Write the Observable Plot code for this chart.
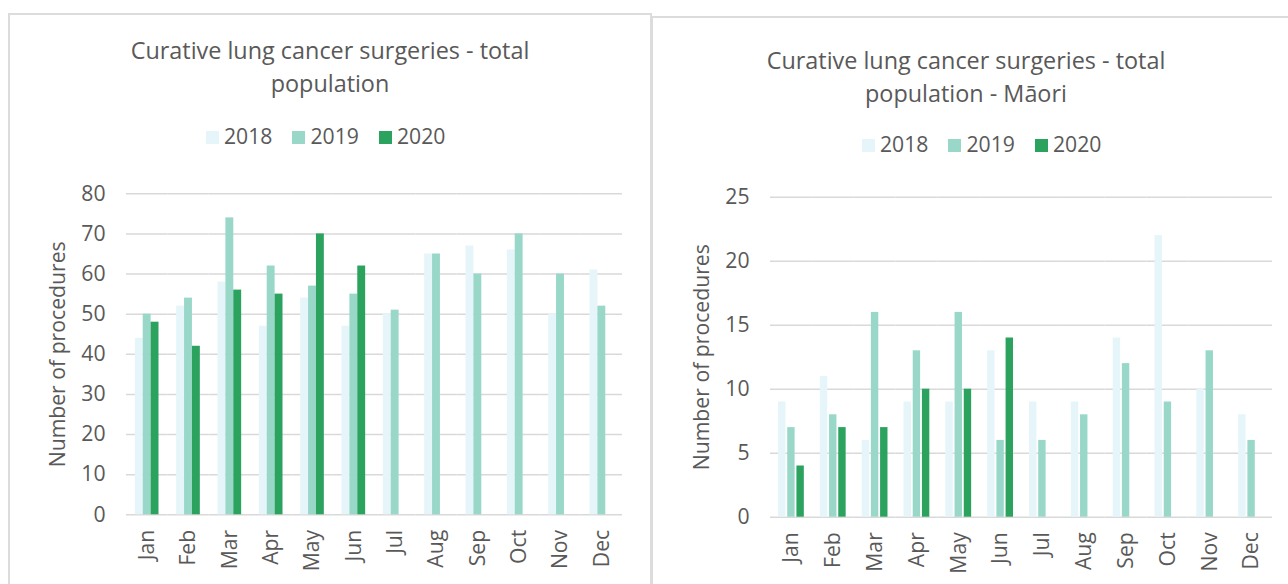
<!DOCTYPE html>
<html>
<head>
<meta charset="utf-8">
<script src="https://cdn.jsdelivr.net/npm/d3@7"></script>
<script src="https://cdn.jsdelivr.net/npm/@observablehq/plot@0.6"></script>
<style>
  html, body { margin: 0; padding: 0; background: #fff; }
  body { width: 1288px; height: 584px; overflow: hidden; position: relative; font-family: "Open Sans", sans-serif; color: #595959; }
  .panel { position: absolute; border: 2px solid #dcdcdc; box-sizing: border-box; background: #fff; }
  .title { position: absolute; text-align: center; font-size: 23.4px; line-height: 33px; white-space: nowrap; }
  .legend { position: absolute; font-size: 21.2px; line-height: 28px; white-space: nowrap; }
  .sw { display: inline-block; width: 13px; height: 13px; margin-right: 5px; vertical-align: baseline; }
  .item { margin-right: 20px; }
  .chart { position: absolute; }
</style>
</head>
<body>
<div class="panel" style="left:8px;top:13px;width:644px;height:640px;"></div>
<div class="panel" style="left:651px;top:16px;width:700px;height:640px;"></div>
<div id="t1" class="title" style="left:8px;width:644px;top:34px;"></div>
<div id="t2" class="title" style="left:653px;width:626px;top:44px;"></div>
<div id="l1" class="legend" style="left:206px;top:122px;"></div>
<div id="l2" class="legend" style="left:862px;top:130px;"></div>
<div id="c1" class="chart" style="left:8px;top:170px;"></div>
<div id="c2" class="chart" style="left:654px;top:170px;"></div>
<script>
// ---- data ----
const months = ["Jan","Feb","Mar","Apr","May","Jun","Jul","Aug","Sep","Oct","Nov","Dec"];
const years = ["2018","2019","2020"];
const yearColors = ["#e5f5f9","#99d8c9","#2ca25f"];

const total2018 = [44, 52, 58, 47, 54, 47, 50, 65, 67, 66, 50, 61];
const total2019 = [50, 54, 74, 62, 57, 55, 51, 65, 60, 70, 60, 52];
const total2020 = [48, 42, 56, 55, 70, 62];

const maori2018 = [9, 11, 6, 9, 9, 13, 9, 9, 14, 22, 10, 8];
const maori2019 = [7, 8, 16, 13, 16, 6, 6, 8, 12, 9, 13, 6];
const maori2020 = [4, 7, 7, 10, 10, 14];

const totalTicks = [0, 10, 20, 30, 40, 50, 60, 70, 80];
const maoriTicks = [0, 5, 10, 15, 20, 25];

const title1 = ["Curative lung cancer surgeries - total", "population"];
const title2 = ["Curative lung cancer surgeries - total", "population - Māori"];
const yLabel = "Number of procedures";

function toTable(series) {
  const rows = [];
  series.forEach((vals, i) => {
    vals.forEach((v, m) => rows.push({month: months[m], year: years[i], value: v}));
  });
  return rows;
}
const totalTable = toTable([total2018, total2019, total2020]);
const maoriTable = toTable([maori2018, maori2019, maori2020]);

// ---- titles & legends ----
function setTitle(id, lines) {
  const el = document.getElementById(id);
  lines.forEach((t, i) => {
    if (i) el.appendChild(document.createElement("br"));
    el.appendChild(document.createTextNode(t));
  });
}
setTitle("t1", title1);
setTitle("t2", title2);
function setLegend(id) {
  const el = document.getElementById(id);
  years.forEach((y, i) => {
    const s = document.createElement("span");
    s.className = "item";
    const sw = document.createElement("span");
    sw.className = "sw";
    sw.style.background = yearColors[i];
    s.appendChild(sw);
    s.appendChild(document.createTextNode(y));
    el.appendChild(s);
  });
}
setLegend("l1");
setLegend("l2");

// ---- charts ----
const FS = "21.2px";
function chart({table, ticks, yMax, width, marginLeft, marginRight, marginTop, marginBottom, height, paddingOuter, inset, labelOffset}) {
  return Plot.plot({
    width, height, marginLeft, marginRight, marginTop, marginBottom,
    style: {fontFamily: "Open Sans, sans-serif", fontSize: FS, color: "#595959", background: "transparent", overflow: "visible"},
    fx: {domain: months, padding: 0, round: false, label: null},
    x: {domain: years, paddingInner: 0, paddingOuter, round: false, axis: null},
    y: {domain: [0, yMax]},
    color: {domain: years, range: yearColors},
    marks: [
      Plot.gridY(ticks, {stroke: "#d9d9d9", strokeOpacity: 1, strokeWidth: 1.4}),
      Plot.barY(table, {fx: "month", x: "year", y: "value", fill: "year", insetLeft: inset, insetRight: inset}),
      Plot.axisY(ticks, {tickSize: 0, tickPadding: 21, label: yLabel, labelAnchor: "center", labelOffset, labelArrow: "none", fontSize: FS}),
      Plot.axisFx({anchor: "bottom", tickSize: 0, tickPadding: 15, tickRotate: -90, label: null, fontSize: FS})
    ]
  });
}

document.getElementById("c1").appendChild(chart({
  table: totalTable, ticks: totalTicks, yMax: 80,
  width: 643, height: 414, marginLeft: 118, marginRight: 29, marginTop: 23.3, marginBottom: 69.7,
  paddingOuter: 1.12, inset: 0, labelOffset: 77
}));
document.getElementById("c2").appendChild(chart({
  table: maoriTable, ticks: maoriTicks, yMax: 25,
  width: 634, height: 414, marginLeft: 116, marginRight: 16, marginTop: 26.7, marginBottom: 67.3,
  paddingOuter: 0.773, inset: 0.9, labelOffset: 77
}));
</script>
</body>
</html>
